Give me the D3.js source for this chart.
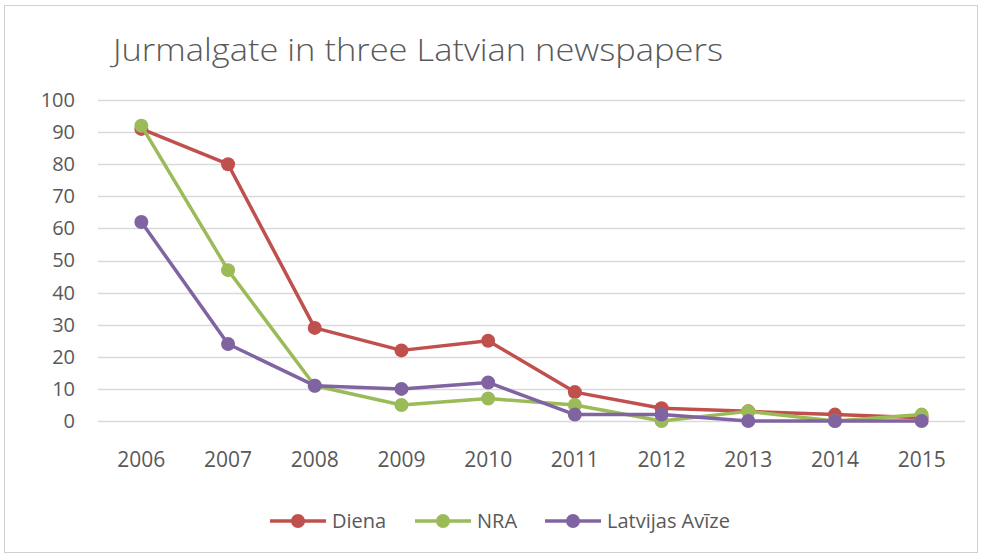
<!DOCTYPE html>
<html>
<head>
<meta charset="utf-8">
<script src="https://cdn.jsdelivr.net/npm/d3@7"></script>
<style>
  body { margin: 0; background: #fff; }
  text { font-family: "Open Sans", "Liberation Sans", sans-serif; fill: #595959; }
</style>
</head>
<body>
<div id="chart"></div>
<script>
// Data
const years = ["2006", "2007", "2008", "2009", "2010", "2011", "2012", "2013", "2014", "2015"];
const diena = [91, 80, 29, 22, 25, 9, 4, 3, 2, 1];
const nra = [92, 47, 11, 5, 7, 5, 0, 3, 0, 2];
const latvijas = [62, 24, 11, 10, 12, 2, 2, 0, 0, 0];
const yTicks = [0, 10, 20, 30, 40, 50, 60, 70, 80, 90, 100];

const series = [
  { name: "Diena", values: diena, color: "#C0504D" },
  { name: "NRA", values: nra, color: "#9BBB59" },
  { name: "Latvijas Avīze", values: latvijas, color: "#8064A2" }
];

const width = 983, height = 558;
const plot = { left: 98, right: 965, top: 100, bottom: 421 };

const svg = d3.select("#chart").append("svg")
  .attr("width", width)
  .attr("height", height);

// outer frame
svg.append("rect")
  .attr("x", 4.5).attr("y", 5.5)
  .attr("width", 973).attr("height", 547)
  .attr("fill", "#fff")
  .attr("stroke", "#d0d0d0");

svg.append("text")
  .attr("x", 113).attr("y", 61)
  .attr("textLength", 610)
  .attr("lengthAdjust", "spacingAndGlyphs")
  .style("font-size", "31px")
  .style("font-weight", 300)
  .text("Jurmalgate in three Latvian newspapers");

const x = d3.scaleBand().domain(years).range([plot.left, plot.right]);
const y = d3.scaleLinear().domain([0, 100]).range([plot.bottom, plot.top]);

// gridlines
svg.append("g")
  .selectAll("line")
  .data(yTicks)
  .join("line")
  .attr("x1", plot.left).attr("x2", plot.right)
  .attr("y1", d => Math.round(y(d)) + 0.5)
  .attr("y2", d => Math.round(y(d)) + 0.5)
  .attr("stroke", "#d9d9d9")
  .attr("stroke-width", 1.5);

// y axis
const yAxis = svg.append("g")
  .attr("transform", `translate(${plot.left},0)`)
  .call(d3.axisLeft(y).tickValues(yTicks).tickSize(0).tickPadding(23));
yAxis.select(".domain").remove();
yAxis.selectAll("text")
  .style("font-size", "20px")
  .style("font-family", "'Open Sans', sans-serif")
  .attr("fill", "#595959");

// x axis
const xAxis = svg.append("g")
  .attr("transform", `translate(0,${plot.bottom})`)
  .call(d3.axisBottom(x).tickSize(0).tickPadding(31));
xAxis.select(".domain").remove();
xAxis.selectAll("text")
  .style("font-size", "21px")
  .style("font-family", "'Open Sans', sans-serif")
  .attr("fill", "#595959");

const cx = d => x(d) + x.bandwidth() / 2;
const line = d3.line()
  .x((d, i) => cx(years[i]))
  .y(d => y(d));

series.forEach(s => {
  svg.append("path")
    .datum(s.values)
    .attr("d", line)
    .attr("fill", "none")
    .attr("stroke", s.color)
    .attr("stroke-width", 3.5)
    .attr("stroke-linejoin", "round");

  svg.append("g")
    .selectAll("circle")
    .data(s.values)
    .join("circle")
    .attr("cx", (d, i) => cx(years[i]))
    .attr("cy", d => y(d))
    .attr("r", 7)
    .attr("fill", s.color);
});

// legend
const legendX = [270, 415, 545];
const legendY = 521;
const legend = svg.append("g");
series.forEach((s, i) => {
  const g = legend.append("g").attr("transform", `translate(${legendX[i]},${legendY})`);
  g.append("line")
    .attr("x1", 0).attr("x2", 56)
    .attr("y1", 0).attr("y2", 0)
    .attr("stroke", s.color)
    .attr("stroke-width", 3.5);
  g.append("circle")
    .attr("cx", 28).attr("cy", 0).attr("r", 7)
    .attr("fill", s.color);
  g.append("text")
    .attr("x", 62).attr("y", 7)
    .style("font-size", "20px")
    .text(s.name);
});
</script>
</body>
</html>
